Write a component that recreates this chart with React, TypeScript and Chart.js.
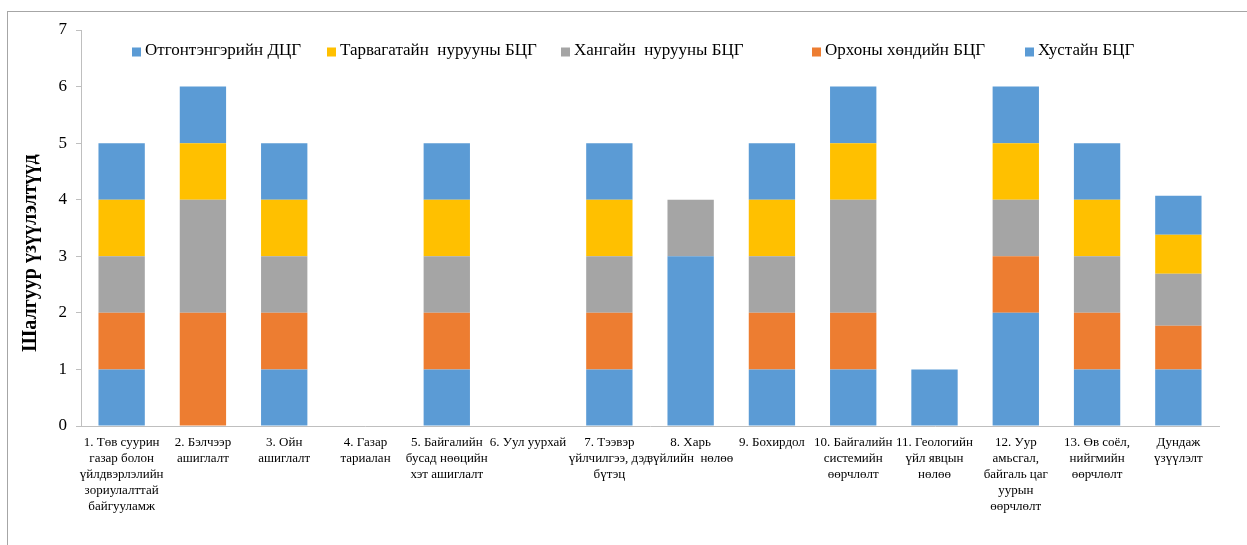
import React, { useEffect, useRef } from "react";
import { Chart, registerables } from "chart.js";

Chart.register(...registerables);

const categories: string[][] = [
  ["1. Төв суурин", "газар болон", "үйлдвэрлэлийн", "зориулалттай", "байгууламж"],
  ["2. Бэлчээр", "ашиглалт"],
  ["3. Ойн", "ашиглалт"],
  ["4. Газар", "тариалан"],
  ["5. Байгалийн", "бусад нөөцийн", "хэт ашиглалт"],
  ["6. Уул уурхай"],
  ["7. Тээвэр", "үйлчилгээ, дэд", "бүтэц"],
  ["8. Харь", "зүйлийн  нөлөө"],
  ["9. Бохирдол"],
  ["10. Байгалийн", "системийн", "өөрчлөлт"],
  ["11. Геологийн", "үйл явцын", "нөлөө"],
  ["12. Уур", "амьсгал,", "байгаль цаг", "уурын", "өөрчлөлт"],
  ["13. Өв соёл,", "нийгмийн", "өөрчлөлт"],
  ["Дундаж", "үзүүлэлт"],
];

const otgontenger = [1, 0, 1, 0, 1, 0, 1, 3, 1, 1, 1, 2, 1, 1.0];
const orkhon = [1, 2, 1, 0, 1, 0, 1, 0, 1, 1, 0, 1, 1, 0.77];
const khangai = [1, 2, 1, 0, 1, 0, 1, 1, 1, 2, 0, 1, 1, 0.92];
const tarvagatai = [1, 1, 1, 0, 1, 0, 1, 0, 1, 1, 0, 1, 1, 0.69];
const khustai = [1, 1, 1, 0, 1, 0, 1, 0, 1, 1, 0, 1, 1, 0.69];

const seriesNames = [
  "Отгонтэнгэрийн ДЦГ",
  "Орхоны хөндийн БЦГ",
  "Хангайн  нурууны БЦГ",
  "Тарвагатайн  нурууны БЦГ",
  "Хустайн БЦГ",
];
const seriesColors = ["#5B9BD5", "#ED7D31", "#A5A5A5", "#FFC000", "#5B9BD5"];
const legendOrder = [0, 3, 2, 1, 4];
const legendBoxX = [132, 327, 561, 812, 1025];
const yTitle = "Шалгуур үзүүлэлтүүд";

const yTicks = [0, 1, 2, 3, 4, 5, 6, 7];

const SERIF = '"Liberation Serif", "Times New Roman", serif';

const overlayPlugin = {
  id: "overlayTexts",
  afterDraw(chart: any) {
    const ctx = chart.ctx;
    ctx.save();
    // legend
    ctx.font = `17px ${SERIF}`;
    ctx.textBaseline = "middle";
    ctx.textAlign = "left";
    const box = 9;
    const y = 51;
    legendOrder.forEach((i, k) => {
      const x = legendBoxX[k];
      ctx.fillStyle = seriesColors[i];
      ctx.fillRect(x, y - box / 2 + 1, box, box);
      ctx.fillStyle = "#000";
      ctx.fillText(seriesNames[i], x + 13, y);
    });
    // y title
    ctx.font = `bold 20px ${SERIF}`;
    ctx.textAlign = "center";
    ctx.textBaseline = "middle";
    ctx.fillStyle = "#000";
    ctx.translate(31, 253);
    ctx.rotate(-Math.PI / 2);
    ctx.fillText(yTitle, 0, 0);
    ctx.restore();
  },
};

export default function App() {
  const ref = useRef<HTMLCanvasElement | null>(null);

  useEffect(() => {
    if (!ref.current) return;
    const data = [otgontenger, orkhon, khangai, tarvagatai, khustai];
    const chart = new Chart(ref.current, {
      type: "bar",
      data: {
        labels: categories,
        datasets: data.map((d, i) => ({
          label: seriesNames[i],
          data: d,
          backgroundColor: seriesColors[i],
          borderWidth: 0,
          barPercentage: 0.57,
          categoryPercentage: 1,
        })),
      },
      options: {
        animation: false,
        responsive: true,
        maintainAspectRatio: false,
        layout: { padding: { left: 0, right: 28, top: 30, bottom: 0 } },
        plugins: {
          legend: { display: false },
          tooltip: { enabled: false },
        },
        scales: {
          x: {
            stacked: true,
            grid: { display: false, drawTicks: false },
            border: { display: true, color: "#bfbfbf", width: 1 },
            ticks: {
              autoSkip: false,
              maxRotation: 0,
              minRotation: 0,
              padding: 9,
              color: "#000",
              font: { family: SERIF, size: 13, lineHeight: 16 / 13 },
            },
            afterFit: (scale: any) => {
              scale.height = 545 - 426;
            },
          },
          y: {
            stacked: true,
            min: 0,
            max: 7,
            afterBuildTicks: (scale: any) => {
              scale.ticks = yTicks.map((v) => ({ value: v }));
            },
            grid: {
              drawOnChartArea: false,
              drawTicks: true,
              tickLength: 5,
              color: "#bfbfbf",
            },
            border: { display: true, color: "#bfbfbf", width: 1 },
            ticks: {
              padding: 9,
              color: "#000",
              font: { family: SERIF, size: 17 },
            },
            afterFit: (scale: any) => {
              scale.width = 81;
            },
          },
        },
      },
      plugins: [overlayPlugin],
    });
    return () => chart.destroy();
  }, []);

  return (
    <div
      style={{
        position: "fixed",
        left: 0,
        top: 0,
        width: 1247,
        height: 545,
        overflow: "hidden",
        background: "#fff",
      }}
    >
      <div
        style={{
          position: "absolute",
          left: 7,
          top: 11,
          width: 1300,
          height: 600,
          border: "1px solid #a6a6a6",
        }}
      />
      <div style={{ position: "absolute", left: 0, top: 0, width: 1247, height: 545 }}>
        <canvas ref={ref} />
      </div>
    </div>
  );
}
